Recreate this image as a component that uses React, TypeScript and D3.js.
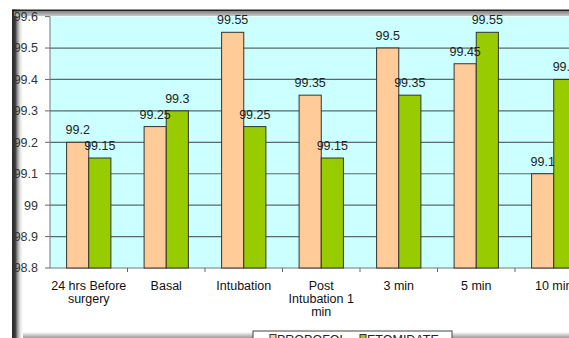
import React from "react";
import * as d3 from "d3";

const categories = [
  ["24 hrs Before", "surgery"],
  ["Basal"],
  ["Intubation"],
  ["Post", "Intubation 1", "min"],
  ["3 min"],
  ["5 min"],
  ["10 min"],
];
const propofol = [99.2, 99.25, 99.55, 99.35, 99.5, 99.45, 99.1];
const etomidate = [99.15, 99.3, 99.25, 99.15, 99.35, 99.55, 99.4];
const yTicks = [98.8, 98.9, 99, 99.1, 99.2, 99.3, 99.4, 99.5, 99.6];
const seriesNames = ["PROPOFOL", "ETOMIDATE"];
const colors = ["#FFCC99", "#99CC00"];

export default function App() {
  const W = 569, H = 338;
  const left = 50, right = 592.5, top = 16.6, bottom = 268;
  const x = d3.scaleBand().domain(d3.range(categories.length).map(String)).range([left, right]).paddingInner(0).paddingOuter(0);
  const y = d3.scaleLinear().domain([98.8, 99.6]).range([bottom, top]);
  const bw = x.bandwidth() / 3.5;
  const font = "'Liberation Sans', Arial, sans-serif";
  const fs = 12.5;
  const series = [propofol, etomidate];
  return (
    <svg width={W} height={H} style={{ position: "absolute", left: 0, top: 0, display: "block" }} fontFamily={font}>
      <defs>
        <linearGradient id="lshadow" x1="0" x2="1" y1="0" y2="0">
          <stop offset="0" stopColor="#2a2a2a" />
          <stop offset="0.3" stopColor="#3a3a3a" />
          <stop offset="0.5" stopColor="#999" />
          <stop offset="0.75" stopColor="#e6e6e6" />
          <stop offset="1" stopColor="#fff" />
        </linearGradient>
        <linearGradient id="tband" x1="0" x2="0" y1="0" y2="1">
          <stop offset="0" stopColor="#888" />
          <stop offset="1" stopColor="#c8c8c8" />
        </linearGradient>
        <linearGradient id="bshadow" x1="0" x2="0" y1="0" y2="1">
          <stop offset="0" stopColor="#fff" />
          <stop offset="1" stopColor="#999" />
        </linearGradient>
      </defs>
      <rect x={0} y={0} width={W} height={H} fill="#fff" />
      {/* bottom shadow */}
      <rect x={12} y={332} width={W - 12} height={6} fill="url(#bshadow)" />
      {/* left shadow */}
      <rect x={12} y={9.5} width={11} height={H - 9.5} fill="url(#lshadow)" />
      {/* top frame */}
      <rect x={12} y={9.5} width={W - 12} height={2} fill="#222" />
      <rect x={14} y={11.5} width={W - 14} height={4.5} fill="url(#tband)" />
      {/* plot area */}
      <rect x={left} y={top} width={right - left} height={bottom - top} fill="#CCFFFF" />
      {yTicks.map((t) => (
        <g key={t}>
          {t > 98.8 && t < 99.6 && (
            <line x1={left} x2={right} y1={y(t)} y2={y(t)} stroke="#5a6a6a" strokeWidth={1.2} />
          )}
          <line x1={left - 5} x2={left} y1={y(t)} y2={y(t)} stroke="#666" />
          <text x={38} y={y(t)} dy="0.35em" textAnchor="end" fontSize={fs} fill="#333">
            {d3.format("")(t)}
          </text>
        </g>
      ))}
      <line x1={left} x2={left} y1={top} y2={bottom} stroke="#777" />
      <line x1={left} x2={right} y1={bottom} y2={bottom} stroke="#777" />
      {categories.map((c, i) => {
        const x0 = x(String(i))!;
        return (
          <g key={i}>
            <line x1={x0 + x.bandwidth()} x2={x0 + x.bandwidth()} y1={bottom} y2={bottom + 4} stroke="#666" />
            {c.map((ln, j) => (
              <text key={j} x={x0 + x.bandwidth() / 2} y={290 + j * 13} textAnchor="middle" fontSize={fs} fill="#111">
                {ln}
              </text>
            ))}
          </g>
        );
      })}
      {series.map((s, si) =>
        s.map((v, i) => {
          const bx = x(String(i))! + bw * 0.75 + si * bw;
          return (
            <g key={si + "-" + i}>
              <rect x={bx} y={y(v)} width={bw} height={bottom - y(v)} fill={colors[si]} stroke="#333" strokeWidth={1} />
            </g>
          );
        })
      )}
      {series.map((s, si) =>
        s.map((v, i) => {
          const bx = x(String(i))! + bw * 0.75 + si * bw;
          return (
            <text key={"l" + si + "-" + i} x={bx + bw / 2} y={y(v) - 8} textAnchor="middle" fontSize={fs} fill="#222">
              {d3.format("")(v)}
            </text>
          );
        })
      )}
      {/* legend */}
      <rect x={253} y={331} width={199} height={14} fill="#fff" stroke="#444" />
      {seriesNames.map((n, i) => (
        <g key={n}>
          <rect x={270 + i * 90} y={334.5} width={6} height={6} fill={colors[i]} stroke="#333" />
          <text x={277 + i * 90} y={344} fontSize={fs} fill="#222">
            {n}
          </text>
        </g>
      ))}
    </svg>
  );
}
